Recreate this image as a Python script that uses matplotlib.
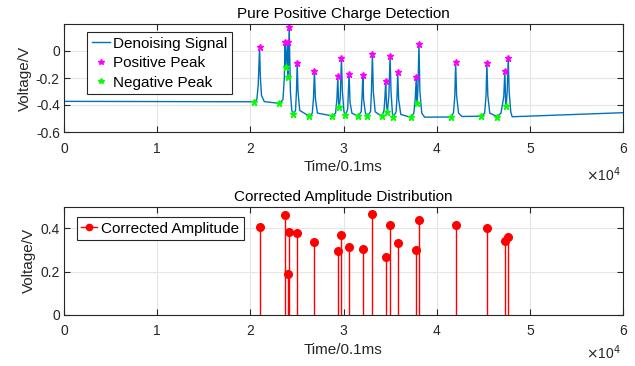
import matplotlib
matplotlib.use('Agg')
import matplotlib.pyplot as plt
from matplotlib.ticker import FixedLocator, FuncFormatter
from matplotlib.legend_handler import HandlerLine2D
from matplotlib.lines import Line2D

# ---- data (time in samples, 0.1 ms each) ----
sig_t = [0, 20000, 20420, 20700, 20850, 20990, 21080, 21200, 21500, 23130,
         23500, 23650, 23740, 23810, 23990, 24060, 24170, 24300, 24450, 24600,
         24850, 24950, 25030, 25120, 25300, 26350,
         26650, 26780, 26880, 26980, 27200, 28810,
         29150, 29300, 29390, 29470, 29530, 29650, 29780, 29880, 30050, 30200,
         30450, 30600, 30700, 30900, 31560,
         31900, 32000, 32070, 32160, 32350, 32570,
         32900, 33000, 33100, 33200, 33400, 34100,
         34350, 34450, 34530, 34620, 34710, 34870, 35000, 35100, 35250, 35350,
         35650, 35750, 35820, 35920, 36150, 37250,
         37550, 37700, 37810, 37880, 37920, 38000, 38100, 38200, 38400, 38700, 41500,
         41800, 41950, 42040, 42140, 42350, 42700, 44780,
         45150, 45300, 45390, 45490, 45700, 46500,
         46900, 47200, 47320, 47400, 47460, 47570, 47680, 47780, 47950, 48100, 60000]
sig_v = [-0.373, -0.376, -0.376, -0.36, -0.25, 0.027, -0.2, -0.33, -0.375, -0.388,
         -0.36, -0.2, 0.067, -0.119, 0.064, -0.195, 0.18, -0.3, -0.44, -0.47,
         -0.44, -0.3, -0.092, -0.3, -0.44, -0.484,
         -0.46, -0.35, -0.148, -0.35, -0.46, -0.481,
         -0.46, -0.35, -0.188, -0.38, -0.418, -0.35, -0.052, -0.3, -0.45, -0.477,
         -0.43, -0.168, -0.38, -0.46, -0.484,
         -0.45, -0.33, -0.181, -0.36, -0.46, -0.481,
         -0.45, -0.3, -0.022, -0.3, -0.45, -0.484,
         -0.44, -0.34, -0.222, -0.40, -0.45, -0.33, -0.04, -0.3, -0.46, -0.487,
         -0.45, -0.33, -0.158, -0.36, -0.47, -0.492,
         -0.46, -0.35, -0.195, -0.36, -0.383, -0.25, 0.052, -0.3, -0.46, -0.49, -0.489,
         -0.46, -0.33, -0.081, -0.33, -0.46, -0.485, -0.483,
         -0.46, -0.33, -0.089, -0.33, -0.46, -0.487,
         -0.46, -0.34, -0.151, -0.37, -0.41, -0.3, -0.055, -0.3, -0.45, -0.487, -0.457]

pos_t = [20990, 23740, 23990, 24170, 25030, 26880, 29390, 29780, 30600, 32070,
         33100, 34530, 35000, 35820, 37810, 38100, 42040, 45390, 47320, 47680]
pos_v = [0.027, 0.067, 0.064, 0.18, -0.092, -0.148, -0.188, -0.052, -0.168, -0.181,
         -0.022, -0.222, -0.04, -0.158, -0.195, 0.052, -0.081, -0.089, -0.151, -0.055]

neg_t = [20420, 23130, 23810, 24060, 24600, 26350, 28810, 29530, 30200, 31560,
         32570, 34100, 34710, 35350, 37250, 37920, 41500, 44780, 46500, 47460]
neg_v = [-0.376, -0.388, -0.119, -0.195, -0.47, -0.484, -0.481, -0.418, -0.477, -0.484,
         -0.481, -0.484, -0.45, -0.487, -0.492, -0.383, -0.489, -0.483, -0.487, -0.41]

amp_v = [0.405, 0.46, 0.189, 0.381, 0.38, 0.337, 0.296, 0.371, 0.313, 0.304,
         0.464, 0.265, 0.414, 0.332, 0.301, 0.437, 0.413, 0.40, 0.341, 0.358]

x_ticks = [0, 10000, 20000, 30000, 40000, 50000, 60000]

plt.rcParams['font.family'] = ['Liberation Sans', 'DejaVu Sans']
plt.rcParams['font.size'] = 10
dark = '#262626'


class EndMarkerHandler(HandlerLine2D):
    # MATLAB-style stem legend: line with the marker at its right end
    def get_xdata(self, legend, xdescent, ydescent, width, height, fontsize):
        return [-xdescent, width - xdescent], [width - xdescent]


def style_axes(ax, yticks, ylim):
    ax.set_xlim(0, 60000)
    ax.set_ylim(*ylim)
    ax.xaxis.set_major_locator(FixedLocator(x_ticks))
    ax.xaxis.set_major_formatter(FuncFormatter(lambda v, p: '%d' % round(v / 10000)))
    ax.set_yticks(yticks)
    ax.yaxis.set_major_formatter(FuncFormatter(lambda v, p: '0' if abs(v) < 1e-9 else ('%g' % v)))
    ax.tick_params(direction='in', top=True, right=True, length=4, width=0.8,
                   colors=dark, labelsize=10)
    ax.tick_params(axis='x', pad=7)
    ax.tick_params(axis='y', pad=3)
    ax.grid(True, color='#e6e6e6', linewidth=0.8)
    ax.set_axisbelow(True)
    for s in ax.spines.values():
        s.set_color(dark)
        s.set_linewidth(0.8)
    ax.set_xlabel('Time/0.1ms', color=dark, fontsize=11, labelpad=3)
    ax.set_ylabel('Voltage/V', color=dark, fontsize=11, labelpad=3)


fig = plt.figure(figsize=(6.35, 3.66), dpi=100)

# top panel
ax1 = fig.add_axes([64 / 635, 1 - 132 / 366, 559 / 635, 108 / 366])
ax1.plot(sig_t, sig_v, color='#0072BD', linewidth=1.0, label='Denoising Signal')
ax1.plot(pos_t, pos_v, linestyle='none', marker='*', color='#FF00FF', markersize=5,
         label='Positive Peak')
ax1.plot(neg_t, neg_v, linestyle='none', marker='*', color='#00FF00', markersize=5,
         label='Negative Peak')
style_axes(ax1, [-0.6, -0.4, -0.2, 0], (-0.6, 0.2))
ax1.set_title('Pure Positive Charge Detection', fontsize=11, color='black', pad=4)
leg1 = ax1.legend(loc='upper left', bbox_to_anchor=(0.041, 0.926), borderaxespad=0,
                  fancybox=False, framealpha=1, edgecolor=dark, fontsize=11,
                  handlelength=1.2, handletextpad=0.2, labelspacing=0.36,
                  borderpad=0.3, markerscale=0.8)
leg1.get_frame().set_linewidth(0.8)
fig.text(586 / 635, 1 - 181 / 366, r'$\times$10$^{4}$', fontsize=10, color=dark)

# bottom panel
ax2 = fig.add_axes([64 / 635, 1 - 314.7 / 366, 559 / 635, 108 / 366])
ml, sl, bl = ax2.stem(pos_t, amp_v, linefmt='-', markerfmt='o', basefmt=' ')
plt.setp(sl, color='#FF0000', linewidth=1.0)
plt.setp(ml, color='#FF0000', markersize=5.5)
style_axes(ax2, [0, 0.2, 0.4], (0, 0.5))
ax2.set_title('Corrected Amplitude Distribution', fontsize=11, color='black', pad=4)
amp_handle = Line2D([], [], color='#FF0000', linewidth=1.0, marker='o', markersize=4.5)
leg2 = ax2.legend([amp_handle], ['Corrected Amplitude'], loc='upper left',
                  bbox_to_anchor=(0.023, 0.905), borderaxespad=0,
                  fancybox=False, framealpha=1, edgecolor=dark, fontsize=11,
                  handlelength=1.0, handletextpad=0.3, borderpad=0.3,
                  handler_map={amp_handle: EndMarkerHandler()})
leg2.get_frame().set_linewidth(0.8)
fig.text(586 / 635, 1 - 359 / 366, r'$\times$10$^{4}$', fontsize=10, color=dark)

fig.savefig('out.png', dpi=100)
